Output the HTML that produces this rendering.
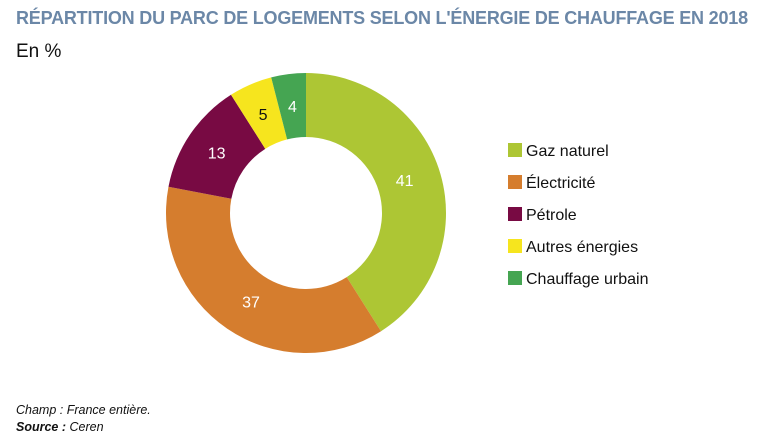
<!DOCTYPE html>
<html><head><meta charset="utf-8"><style>
body{margin:0;width:768px;height:445px;background:#fff;font-family:"Liberation Sans",sans-serif;position:relative;overflow:hidden}
#title{position:absolute;left:16px;top:8px;font-size:18px;font-weight:bold;color:#6b87a7;white-space:nowrap;letter-spacing:-0.2px}
#unit{position:absolute;left:16px;top:41px;font-size:19px;color:#111}
.note{position:absolute;left:16px;font-size:12.5px;font-style:italic;color:#111}
svg{position:absolute;left:0;top:0}
</style></head><body>
<div id="title">RÉPARTITION DU PARC DE LOGEMENTS SELON L'ÉNERGIE DE CHAUFFAGE EN 2018</div>
<div id="unit">En %</div>
<svg id="chart" width="768" height="445"></svg>
<div class="note" style="top:403px">Champ : France entière.</div>
<div class="note" style="top:420px"><b>Source :</b> Ceren</div>
<script>
const categories=["Gaz naturel","Électricité","Pétrole","Autres énergies","Chauffage urbain"];
const values=[41,37,13,5,4];
const colors=["#adc634","#d57d2e","#780a43","#f6e51e","#45a552"];
const labelColors=["#fff","#fff","#fff","#111","#fff"];
const svg=document.getElementById('chart');
const NS="http://www.w3.org/2000/svg";
const cx=306,cy=213,R=140,r=76;
const total=values.reduce((a,b)=>a+b,0);
function pt(a,rad){return [cx+rad*Math.sin(a),cy-rad*Math.cos(a)];}
let acc=0;
values.forEach((v,i)=>{
  const a0=acc/total*2*Math.PI; acc+=v; const a1=acc/total*2*Math.PI;
  const lg=(a1-a0)>Math.PI?1:0;
  const p0=pt(a0,R),p1=pt(a1,R),q1=pt(a1,r),q0=pt(a0,r);
  const p=document.createElementNS(NS,'path');
  p.setAttribute('d',`M${p0[0]},${p0[1]}A${R},${R} 0 ${lg} 1 ${p1[0]},${p1[1]}L${q1[0]},${q1[1]}A${r},${r} 0 ${lg} 0 ${q0[0]},${q0[1]}Z`);
  p.setAttribute('fill',colors[i]);
  
  
  svg.appendChild(p);
  const am=(a0+a1)/2-(v>20?0.04:0), lp=pt(am,(R+r)/2-(v>20?4:0));
  const t=document.createElementNS(NS,'text');
  t.setAttribute('x',lp[0]);t.setAttribute('y',lp[1]+6);
  t.setAttribute('text-anchor','middle');t.setAttribute('font-size','16');
  t.setAttribute('fill',labelColors[i]);
  t.setAttribute('font-family','Liberation Sans, sans-serif');
  t.textContent=v;
  
  
  svg.appendChild(t);
});
categories.forEach((c,i)=>{
  const y=143+i*32;
  const s=document.createElementNS(NS,'rect');
  s.setAttribute('x',508);s.setAttribute('y',y);s.setAttribute('width',14);s.setAttribute('height',14);
  s.setAttribute('fill',colors[i]);
  
  
  svg.appendChild(s);
  const t=document.createElementNS(NS,'text');
  t.setAttribute('x',526);t.setAttribute('y',y+13);
  t.setAttribute('font-size','16');t.setAttribute('fill','#111');
  t.setAttribute('font-family','Liberation Sans, sans-serif');
  t.textContent=c;
  
  
  svg.appendChild(t);
});
</script>
</body></html>
